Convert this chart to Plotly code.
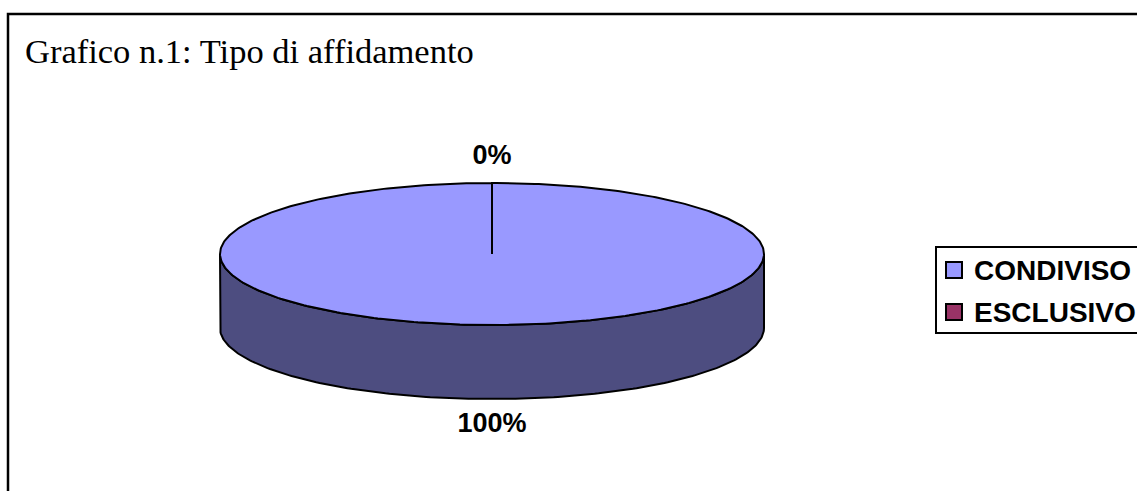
import numpy as np
import plotly.graph_objects as go

# ---- data ----
categories = ["CONDIVISO", "ESCLUSIVO"]
values = [100, 0]
top_colors = ["#9999FF", "#993366"]
side_colors = ["#4D4D80", "#4D1A33"]
title_text = "Grafico n.1: Tipo di affidamento"

# ---- geometry (pixel space) ----
W, H = 1137, 491
cx, cy = 492, 254
a, b = 272, 71
depth = 74
lab_off = 26
leg_x0, leg_y0, leg_y1 = 936, 247, 333
leg_row0, leg_row_gap = 270, 42

total = float(sum(values))
fracs = [v / total for v in values]
bounds = np.concatenate([[0.0], np.cumsum(fracs) * 360.0])


def pt(theta_deg, dy=0.0):
    t = np.radians(theta_deg)
    return cx + a * np.sin(t), cy - b * np.cos(t) + dy


fig = go.Figure()

# side walls (front half only: 90..270 deg clockwise from 12 o'clock)
for i, (t0, t1) in enumerate(zip(bounds[:-1], bounds[1:])):
    s0, s1 = max(t0, 90.0), min(t1, 270.0)
    if s1 <= s0:
        continue
    th = np.linspace(s0, s1, 200)
    xt, yt = pt(th)
    xb, yb = pt(th[::-1], depth)
    xs = np.concatenate([xt, xb, xt[:1]])
    ys = np.concatenate([yt, yb, yt[:1]])
    fig.add_trace(go.Scatter(x=xs, y=ys, mode="lines", fill="toself",
                             fillcolor=side_colors[i],
                             line=dict(color="black", width=2),
                             hoverinfo="skip", showlegend=False))

# top faces
for i, (t0, t1) in enumerate(zip(bounds[:-1], bounds[1:])):
    if t1 <= t0:
        continue
    th = np.linspace(t0, t1, 400)
    xa, ya = pt(th)
    xs = np.concatenate([[cx], xa, [cx]])
    ys = np.concatenate([[cy], ya, [cy]])
    fig.add_trace(go.Scatter(x=xs, y=ys, mode="lines", fill="toself",
                             fillcolor=top_colors[i],
                             line=dict(color="black", width=2),
                             hoverinfo="skip", showlegend=False))

# labels
lx, ly, lt = [], [], []
for i, (t0, t1) in enumerate(zip(bounds[:-1], bounds[1:])):
    mid = (t0 + t1) / 2.0
    t = np.radians(mid)
    x = cx + (a + lab_off) * np.sin(t)
    front = np.cos(t) < 0
    y = cy - (b + lab_off) * np.cos(t) + (depth if front else 0)
    lx.append(x)
    ly.append(y)
    lt.append(f"{fracs[i] * 100:.0f}%")
fig.add_trace(go.Scatter(x=lx, y=ly, mode="text", text=lt,
                         textposition="middle center",
                         textfont=dict(family="Liberation Sans", size=27,
                                       color="black", weight="bold"),
                         hoverinfo="skip", showlegend=False))

# manual legend (box extends past the right edge, as in the original)
rows_y = [leg_row0 + k * leg_row_gap for k in range(len(categories))]
fig.add_trace(go.Scatter(x=[leg_x0 + 18] * len(categories), y=rows_y,
                         mode="markers", hoverinfo="skip", showlegend=False,
                         marker=dict(symbol="square", size=16,
                                     color=top_colors,
                                     line=dict(color="black", width=2))))
annotations = [dict(text=title_text, xref="paper", yref="paper",
                    x=23 / W, y=1 - 51 / H, xanchor="left", yanchor="middle",
                    showarrow=False,
                    font=dict(family="Liberation Serif", size=34.5,
                              color="black"))]
for name, yy in zip(categories, rows_y):
    annotations.append(dict(text=name, x=leg_x0 + 36, y=yy, xref="x", yref="y",
                            xanchor="left", yanchor="middle", showarrow=False,
                            font=dict(family="Liberation Sans", size=28,
                                      color="black", weight="bold")))

fig.update_layout(
    width=W, height=H,
    margin=dict(l=0, r=0, t=0, b=0, autoexpand=False),
    paper_bgcolor="white", plot_bgcolor="white",
    xaxis=dict(range=[0, W], visible=False, fixedrange=True),
    yaxis=dict(range=[H, 0], visible=False, fixedrange=True),
    showlegend=False,
    shapes=[dict(type="rect", xref="paper", yref="paper",
                 x0=8 / W, x1=1.05, y0=-0.05, y1=1 - 14 / H,
                 line=dict(color="black", width=2.5), layer="below"),
            dict(type="rect", xref="x", yref="y",
                 x0=leg_x0, x1=W + 20, y0=leg_y0, y1=leg_y1,
                 line=dict(color="black", width=2), layer="below")],
    annotations=annotations,
)

fig.write_html("out.html")
